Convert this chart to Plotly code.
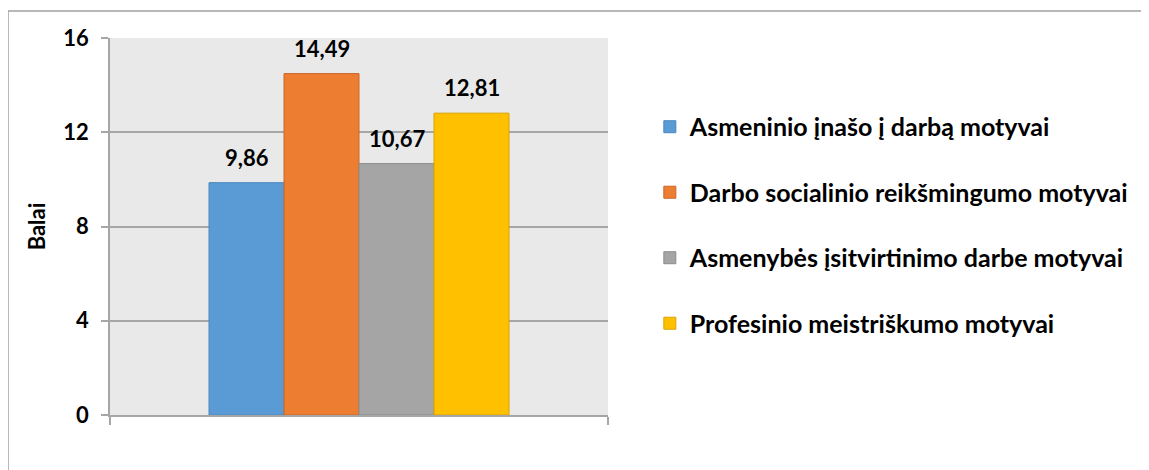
import plotly.graph_objects as go

series = ["Asmeninio įnašo į darbą motyvai",
          "Darbo socialinio reikšmingumo motyvai",
          "Asmenybės įsitvirtinimo darbe motyvai",
          "Profesinio meistriškumo motyvai"]
values = [9.86, 14.49, 10.67, 12.81]
colors = ["#5B9BD5", "#ED7D31", "#A5A5A5", "#FFC000"]
edges = ["#4A86BE", "#C8682A", "#8C8C8C", "#D9A300"]
y_ticks = [0, 4, 8, 12, 16]
y_title = "Balai"

FONT = "Lato"
BLACK = "#000000"
fig = go.Figure()
for i, (name, v, c, e) in enumerate(zip(series, values, colors, edges)):
    fig.add_trace(go.Bar(
        x=[i], y=[v], name=name, width=1.0,
        marker=dict(color=c, line=dict(color=e, width=1)),
        legendgroup=f"g{i}", hoverinfo="skip",
    ))
    fig.add_annotation(x=i, y=v, text=f"{v:.2f}".replace(".", ","),
                       showarrow=False, yanchor="bottom", yshift=10,
                       font=dict(family=FONT, size=22, color=BLACK, weight="bold"))

gray = "#A6A6A6"
fig.update_layout(
    width=1149, height=470,
    margin=dict(l=102, r=549, t=30, b=63),
    paper_bgcolor="white", plot_bgcolor="#E9E9E9",
    separators=", ",
    showlegend=True,
    legend=dict(x=1.084, xanchor="left", y=0.825, yanchor="top",
                font=dict(family=FONT, size=25, color=BLACK, weight="bold"),
                tracegroupgap=30, bgcolor="rgba(0,0,0,0)"),
    xaxis=dict(range=[-1.82, 4.82], tickvals=[-1.82, 4.82], ticktext=["", ""],
               ticks="outside", ticklen=8, tickcolor=gray, tickwidth=1.5,
               showgrid=False, zeroline=False, showline=True, linecolor=gray, linewidth=1.5,
               fixedrange=True),
    yaxis=dict(range=[0, 16], tickvals=y_ticks, ticks="outside", ticklen=7,
               tickcolor=gray, tickwidth=1.5, showgrid=True, gridcolor=gray, gridwidth=1.5,
               zeroline=False, showline=True, linecolor=gray, linewidth=1.5,
               ticklabelstandoff=8,
               tickfont=dict(family=FONT, size=22, color=BLACK, weight="bold"),
               title=dict(text=y_title, font=dict(family=FONT, size=22, color=BLACK, weight="bold"),
                          standoff=12)),
    font=dict(family=FONT),
)

# outer chart border (cut off at right and bottom)
bx = (8 - 110) / 498
by = (415 - 11) / 377
fig.add_shape(type="line", xref="paper", yref="paper", x0=bx, x1=2.5, y0=by, y1=by,
              line=dict(color="#A0A0A0", width=1.5))
fig.add_shape(type="line", xref="paper", yref="paper", x0=bx, x1=bx, y0=by, y1=-0.5,
              line=dict(color="#A0A0A0", width=1.5))

fig.write_html("out.html")
